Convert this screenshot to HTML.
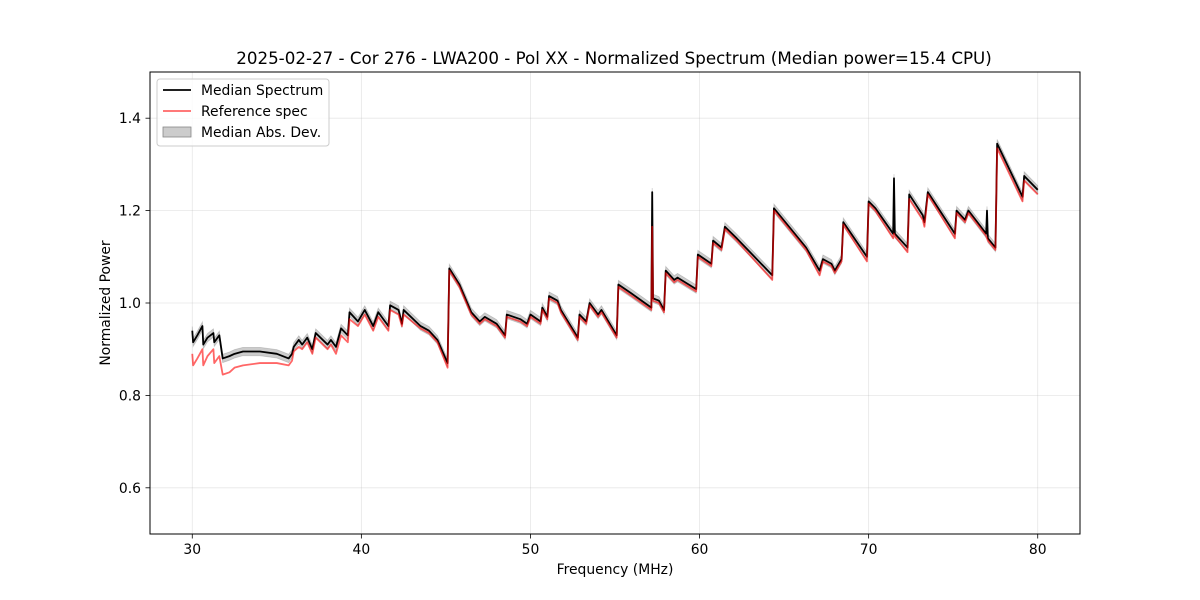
<!DOCTYPE html>
<html><head><meta charset="utf-8">
<style>
html,body{margin:0;padding:0;background:#fff;}
svg{display:block;font-family:"DejaVu Sans","Liberation Sans",sans-serif;}
</style></head>
<body>
<svg id="chart" width="1200" height="600" viewBox="0 0 1200 600">
<rect x="0" y="0" width="1200" height="600" fill="#fff"/>
<text x="614" y="64" text-anchor="middle" font-size="16.7" fill="#000">2025-02-27 - Cor 276 - LWA200 - Pol XX - Normalized Spectrum (Median power=15.4 CPU)</text>
<g id="grid"></g>
<g id="series"></g>
<rect x="150" y="72" width="930" height="462" fill="none" stroke="#000" stroke-width="1"/>
<g id="ticks"></g>
<text x="615" y="574" text-anchor="middle" font-size="13.9">Frequency (MHz)</text>
<text transform="translate(110,303) rotate(-90)" text-anchor="middle" font-size="13.9">Normalized Power</text>
<g>
<rect x="157" y="79" width="172" height="67" rx="3" fill="#fff" fill-opacity="0.8" stroke="#ccc"/>
<line x1="163" y1="90" x2="191" y2="90" stroke="#000" stroke-width="1.8"/>
<text x="201" y="95" font-size="13.9">Median Spectrum</text>
<line x1="163" y1="111" x2="191" y2="111" stroke="#ff6666" stroke-width="1.8"/>
<text x="201" y="116" font-size="13.9">Reference spec</text>
<rect x="163" y="127" width="28" height="10" fill="#000" fill-opacity="0.2" stroke="#888" stroke-width="0.8"/>
<text x="201" y="137" font-size="13.9">Median Abs. Dev.</text>
</g>
</svg>
<script>
const freqs=[30.0,30.05,30.3,30.6,30.65,30.9,31.25,31.3,31.6,31.8,32.2,32.5,33.0,34.0,35.0,35.7,35.9,36.0,36.3,36.5,36.8,37.1,37.3,38.0,38.2,38.5,38.8,39.2,39.3,39.8,40.2,40.7,41.0,41.6,41.7,42.2,42.4,42.5,43.5,44.0,44.5,45.1,45.2,45.8,46.5,47.0,47.3,48.0,48.5,48.6,49.4,49.8,50.0,50.6,50.7,51.0,51.1,51.6,51.8,52.8,52.9,53.3,53.5,54.0,54.2,55.1,55.2,56.0,57.15,57.2,57.25,57.6,57.9,58.0,58.5,58.7,59.8,59.9,60.7,60.8,61.3,61.5,62.2,64.3,64.4,66.3,67.1,67.3,67.8,68.0,68.4,68.5,69.9,70.0,70.4,71.45,71.5,71.55,72.3,72.4,73.2,73.3,73.5,75.1,75.2,75.7,75.9,76.95,77.0,77.05,77.5,77.6,79.1,79.2,80.0];
const median=[.94,.915,.93,.95,.91,.925,.935,.915,.93,.88,.885,.89,.895,.895,.89,.88,.89,.905,.92,.91,.925,.90,.935,.91,.92,.905,.945,.93,.98,.96,.985,.95,.98,.95,.995,.985,.955,.985,.95,.94,.92,.87,1.075,1.04,.98,.96,.97,.955,.93,.975,.965,.955,.975,.96,.99,.97,1.015,1.005,.985,.925,.975,.96,1.0,.975,.985,.93,1.04,1.02,.99,1.24,1.01,1.005,.985,1.07,1.05,1.055,1.03,1.105,1.085,1.135,1.12,1.165,1.14,1.06,1.205,1.12,1.07,1.095,1.085,1.07,1.095,1.175,1.1,1.22,1.205,1.15,1.27,1.15,1.12,1.235,1.19,1.175,1.24,1.15,1.2,1.18,1.2,1.15,1.2,1.14,1.12,1.345,1.23,1.275,1.245];
const reference=[.89,.865,.88,.9,.865,.885,.9,.87,.885,.845,.85,.86,.865,.87,.87,.865,.875,.895,.905,.9,.915,.89,.925,.9,.91,.89,.93,.915,.965,.95,.975,.94,.97,.94,.985,.975,.95,.975,.945,.935,.915,.86,1.07,1.035,.975,.955,.965,.95,.925,.97,.96,.95,.97,.955,.985,.965,1.01,1.0,.98,.92,.97,.955,.995,.97,.98,.925,1.035,1.015,.985,1.165,1.005,1.0,.98,1.065,1.045,1.05,1.025,1.1,1.08,1.13,1.115,1.16,1.135,1.05,1.2,1.115,1.06,1.09,1.08,1.065,1.09,1.17,1.09,1.215,1.2,1.14,1.15,1.145,1.11,1.225,1.18,1.165,1.235,1.14,1.195,1.175,1.195,1.145,1.14,1.135,1.115,1.335,1.22,1.265,1.235];
const madWidth=0.009;
const xTicks=[30,40,50,60,70,80];
const yTicks=[0.6,0.8,1.0,1.2,1.4];
const NS='http://www.w3.org/2000/svg';
function xs(f){return 150+(f-27.5)*(930/55);}
function ys(v){return 534-(v-0.5)*462;}
function mk(tag,attrs,parent){const e=document.createElementNS(NS,tag);for(const k in attrs)e.setAttribute(k,attrs[k]);parent.appendChild(e);return e;}
const grid=document.getElementById('grid'),ticks=document.getElementById('ticks'),ser=document.getElementById('series');
xTicks.forEach(t=>{const x=xs(t);
 const g=mk('line',{x1:x,x2:x,y1:72,y2:534,stroke:'#b0b0b0','stroke-opacity':0.3,'stroke-width':0.8},grid);
 
 
 const tk=mk('line',{x1:x,x2:x,y1:534,y2:538.5,stroke:'#000','stroke-width':0.8},ticks);
 
 
 const lb=mk('text',{x:x,y:554,'text-anchor':'middle','font-size':13.9},ticks);lb.textContent=t;
 
 });
yTicks.forEach(t=>{const y=ys(t);
 const g=mk('line',{x1:150,x2:1080,y1:y,y2:y,stroke:'#b0b0b0','stroke-opacity':0.3,'stroke-width':0.8},grid);
 
 
 const tk=mk('line',{x1:145.5,x2:150,y1:y,y2:y,stroke:'#000','stroke-width':0.8},ticks);
 
 
 const lb=mk('text',{x:141,y:y+5,'text-anchor':'end','font-size':13.9},ticks);lb.textContent=t.toFixed(1);
 
 });
let up=freqs.map((f,i)=>xs(f)+','+ys(median[i]+madWidth)).join(' ');
let dn=freqs.map((f,i)=>xs(f)+','+ys(median[i]-madWidth)).reverse().join(' ');
const band=mk('polygon',{points:up+' '+dn,fill:'#000','fill-opacity':0.2,stroke:'#888','stroke-opacity':0.4,'stroke-width':0.8},ser);


const ml=mk('polyline',{points:freqs.map((f,i)=>xs(f)+','+ys(median[i])).join(' '),fill:'none',stroke:'#000','stroke-width':1.8,'stroke-linejoin':'round'},ser);


const rl=mk('polyline',{points:freqs.map((f,i)=>xs(f)+','+ys(reference[i])).join(' '),fill:'none',stroke:'#ff0000','stroke-opacity':0.6,'stroke-width':1.8,'stroke-linejoin':'round'},ser);


</script>
</body></html>
